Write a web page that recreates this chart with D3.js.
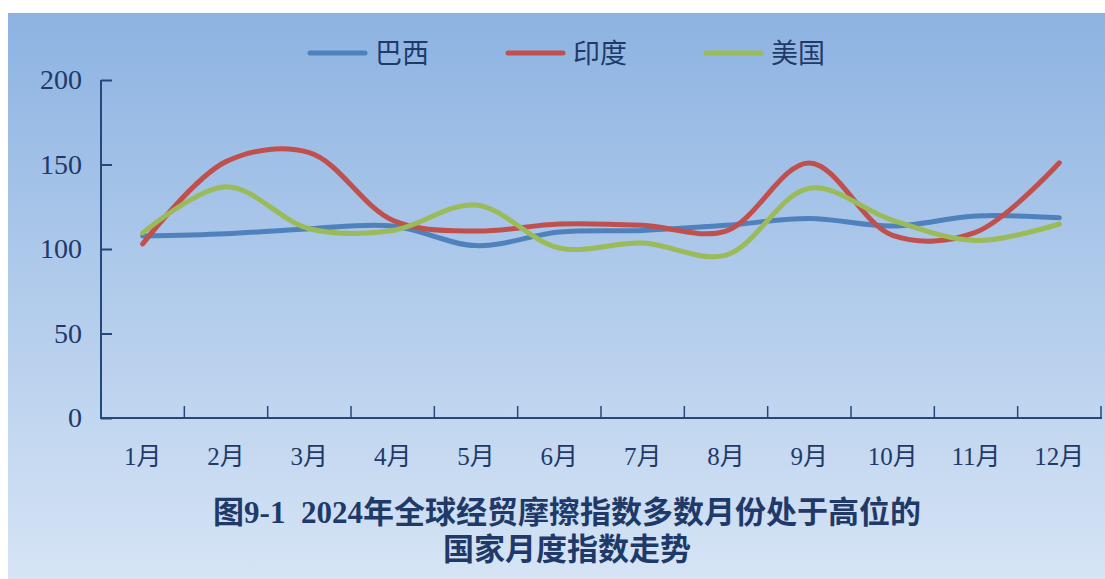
<!DOCTYPE html>
<html><head><meta charset="utf-8">
<script src="https://cdn.jsdelivr.net/npm/d3@7"></script>
<style>body{margin:0;background:#fff}svg{display:block}</style>
</head><body>
<svg id="c" width="1105" height="579"></svg>
<script>
const months = ["1月","2月","3月","4月","5月","6月","7月","8月","9月","10月","11月","12月"];
const seriesNames = ["巴西","印度","美国"];
const brazil = [107.7,109,112,113.6,102,110,111,114,118,113.6,119.5,118.5];
const india  = [103,151.7,157,117,110.6,114.8,114,110.6,150.9,108,110,151];
const usa    = [109.5,136.9,112,111,126,100.6,103.5,96.4,136,117,105,114.8];
const yTicks = [0,50,100,150,200];
const titleLines = ["图9-1\u00a0\u00a02024年全球经贸摩擦指数多数月份处于高位的","国家月度指数走势"];
const colors = ["#4f81bd","#c0504d","#9bbb59"];

const svg = d3.select("#c");
const defs = svg.append("defs");
const g = defs.append("linearGradient").attr("id","bg").attr("x1",0).attr("y1",0).attr("x2",0).attr("y2",1);
g.append("stop").attr("offset","0%").attr("stop-color","#8db3e2");
g.append("stop").attr("offset","100%").attr("stop-color","#d6e4f5");
svg.append("rect").attr("x",8).attr("y",13).attr("width",1097).attr("height",566).attr("fill","url(#bg)");

const font = "'Liberation Serif','Noto Sans CJK SC',serif";
const ink = "#1f3a68";
const axisColor = "#24487c";

const x = d3.scaleBand().domain(months).range([101,1101]).padding(0);
const y = d3.scaleLinear().domain([0,200]).range([418,80]);

// y axis
const ya = svg.append("g").attr("transform","translate(101,0)")
  .call(d3.axisRight(y).tickValues(yTicks).tickSize(11).tickFormat(""));
ya.select(".domain").attr("stroke",axisColor).attr("stroke-width",2).attr("d","M0,80V418");
ya.selectAll(".tick line").attr("stroke",axisColor).attr("stroke-width",2);
svg.append("g").selectAll("text").data(yTicks).join("text")
  .attr("x",82).attr("y",d=>y(d)+9).attr("text-anchor","end")
  .attr("font-family",font).attr("font-size",28).attr("fill",ink).text(d=>d);

// x axis
const xa = svg.append("g").attr("transform","translate(0,418)")
  .call(d3.axisTop(x).tickSize(0).tickFormat(""));
xa.select(".domain").attr("stroke",axisColor).attr("stroke-width",2).attr("d","M100,0H1102");
xa.selectAll(".tick").remove();
const bounds = months.map(m=>x(m)).concat([x.range()[1]]);
svg.append("g").selectAll("line").data(bounds).join("line")
  .attr("x1",d=>d).attr("x2",d=>d).attr("y1",418).attr("y2",406)
  .attr("stroke",axisColor).attr("stroke-width",1.5);
svg.append("g").selectAll("text").data(months).join("text")
  .attr("x",d=>x(d)+x.bandwidth()/2).attr("y",465).attr("text-anchor","middle")
  .attr("font-family",font).attr("font-size",25).attr("fill",ink).text(d=>d);

// lines
const data = [brazil,india,usa];
const line = d3.line().x((d,i)=>x(months[i])+x.bandwidth()/2).y(d=>y(d)).curve(d3.curveCatmullRom.alpha(0.5));
svg.append("g").selectAll("path").data(data).join("path")
  .attr("d",line).attr("fill","none").attr("stroke",(d,i)=>colors[i])
  .attr("stroke-width",5).attr("stroke-linecap","round").attr("stroke-linejoin","round");

// legend
const legX = [310,508,706];
const lg = svg.append("g").selectAll("g").data(seriesNames).join("g")
  .attr("transform",(d,i)=>`translate(${legX[i]},53)`);
lg.append("line").attr("x1",0).attr("x2",55).attr("y1",0).attr("y2",0)
  .attr("stroke",(d,i)=>colors[i]).attr("stroke-width",5).attr("stroke-linecap","round");
lg.append("text").attr("x",65).attr("y",10).attr("font-family",font).attr("font-size",27)
  .attr("fill",ink).text(d=>d);

// title
svg.append("g").selectAll("text").data(titleLines).join("text")
  .attr("x",567).attr("y",(d,i)=>523+i*37).attr("text-anchor","middle")
  .attr("font-family",font).attr("font-size",31).attr("font-weight","bold")
  .attr("fill",ink).text(d=>d);
</script>
</body></html>
